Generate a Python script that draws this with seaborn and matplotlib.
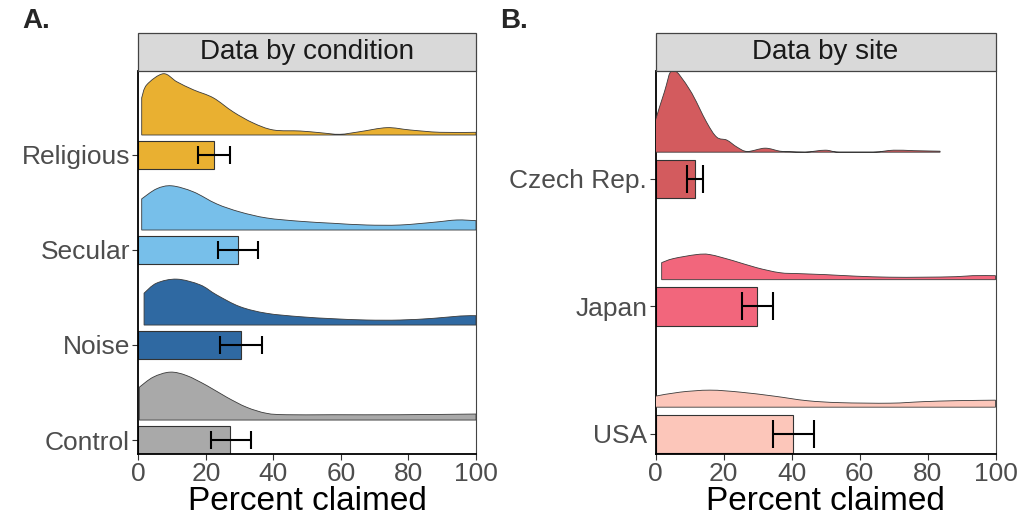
import numpy as np
import pandas as pd
import matplotlib
matplotlib.use("Agg")
import matplotlib.pyplot as plt
from matplotlib.patches import Rectangle, PathPatch
from matplotlib.path import Path
import seaborn as sns

sns.set_theme(style="white")
plt.rcParams['font.family'] = ['Liberation Sans', 'DejaVu Sans']

# ---------------- data: panel A (by condition) ----------------
cond_names = ["Religious", "Secular", "Noise", "Control"]
cond_mean = [22.5, 29.6, 30.4, 27.2]
cond_lo = [17.8, 23.5, 24.3, 21.5]
cond_hi = [27.2, 35.5, 36.5, 33.4]
cond_colors = ["#E9B031", "#77BFEA", "#2F69A2", "#A9A9A9"]

# density ridges (x = percent claimed, d = relative density)
rel_x = [1.0, 2.5, 7.4, 11.4, 16.3, 22.2, 28.1, 34.0, 40.0, 47.9, 53.8, 59.7, 65.6, 73.6, 80.5, 89.3, 100]
rel_d = [37, 50, 61, 53, 45, 37, 23, 12, 5, 4, 2.3, 0.7, 3.3, 7.3, 5, 2.7, 2.7]
sec_x = [1.0, 5.4, 9.9, 16.3, 23.2, 30.1, 38.0, 47.9, 57.7, 67.6, 77.5, 87.4, 94.3, 100]
sec_d = [31, 41, 44, 38, 26, 18, 12, 8.7, 6.7, 5, 5, 7.7, 10, 9.3]
noi_x = [1.7, 5.4, 11.4, 18.3, 23.2, 30.1, 38.0, 47.9, 57.7, 67.6, 77.5, 87.4, 95.3, 100]
noi_d = [31.7, 41.7, 45.7, 40, 30, 18.3, 11.7, 8.3, 6.3, 5, 5, 6.7, 9, 9.3]
con_x = [0.3, 4.4, 9.4, 14.3, 20.3, 26.2, 32.1, 38.0, 43.9, 57.7, 77.5, 100]
con_d = [32.7, 42.7, 47.7, 44.3, 34.3, 22.7, 12.7, 6.7, 5.3, 5.3, 5.3, 6]

# ---------------- data: panel B (by site) ----------------
site_names = ["Czech Rep.", "Japan", "USA"]
site_mean = [11.6, 29.9, 40.5]
site_lo = [9.2, 25.3, 34.5]
site_hi = [14.1, 34.5, 46.7]
site_colors = ["#D35B5E", "#F2667C", "#FCC6BA"]

cze_x = [0.0, 2.6, 5.1, 10.1, 15.0, 18.0, 21.0, 24.0, 27.0, 32.2, 36.6, 39.5, 44.0, 49.9, 54.0, 64.0, 70.0, 76.0, 83.7]
cze_d = [32, 60, 82, 62, 30, 15, 12, 5, 0.7, 4, 1, 0.5, 0, 2, 0, 0, 2, 1.5, 1]
jap_x = [1.8, 5.2, 12.0, 16.0, 22.8, 29.7, 36.5, 42.4, 50.2, 59.0, 68.8, 78.6, 88.4, 93.3, 100]
jap_d = [17, 21, 25, 25, 19, 12, 7, 6, 5, 3.5, 2.5, 2.5, 3, 4, 4]
usa_x = [0, 7.2, 16, 24.9, 34.9, 44.5, 54.3, 69, 78.7, 88.6, 100]
usa_d = [11, 15, 17, 15, 11, 6.5, 4.5, 4, 5.5, 6.5, 7]

x_ticks = [0, 20, 40, 60, 80, 100]

fig = plt.figure(figsize=(10.33, 5.18), dpi=100)
axA = fig.add_axes([0.1339, 0.1236, 0.3269, 0.7394])
axB = fig.add_axes([0.6346, 0.1236, 0.3291, 0.7394])

RIDGE_MAX = 0.645
OFFSET = 0.21


def smooth_ridge_path(xs, tops, base):
    """Closed path: baseline + smooth Bezier curve through the read points."""
    n = len(xs)
    P = np.column_stack([xs, tops])
    verts = [(xs[0], base), (xs[0], tops[0])]
    codes = [Path.MOVETO, Path.LINETO]
    for i in range(n - 1):
        p_prev = P[i - 1] if i > 0 else P[i]
        p_next2 = P[i + 2] if i + 2 < n else P[i + 1]
        c1 = P[i] + (P[i + 1] - p_prev) / 6.0
        c2 = P[i + 1] - (p_next2 - P[i]) / 6.0
        c1[1] = min(c1[1], base)
        c2[1] = min(c2[1], base)
        verts += [tuple(c1), tuple(c2), tuple(P[i + 1])]
        codes += [Path.CURVE4] * 3
    verts += [(xs[-1], base), (xs[0], base)]
    codes += [Path.LINETO, Path.CLOSEPOLY]
    return Path(verts, codes)


def draw_panel(ax, names, means, lo, hi, colors, ridges, ylim, strip_title, capsize):
    df = pd.DataFrame({"group": names, "mean": means})
    pal = dict(zip(names, colors))
    sns.barplot(data=df, x="mean", y="group", hue="group", order=names,
                palette=pal, width=0.3, edgecolor="#333333", linewidth=0.8,
                saturation=1, legend=False, errorbar=None, ax=ax)
    pos = np.arange(len(names))
    means_a = np.array(means)
    ax.errorbar(means_a, pos, xerr=[means_a - np.array(lo), np.array(hi) - means_a],
                fmt="none", ecolor="black", elinewidth=1.5, capsize=capsize,
                capthick=1.5, zorder=5)
    dmax = max(max(d) for _, d in ridges)
    for i, ((xs, ds), col) in enumerate(zip(ridges, colors)):
        xs = np.array(xs, float)
        ds = np.array(ds, float) / dmax * RIDGE_MAX
        base = i - OFFSET
        path = smooth_ridge_path(xs, base - ds, base)
        ax.add_patch(PathPatch(path, facecolor=col, edgecolor="#3a3a3a",
                               linewidth=0.6, zorder=3))
    ax.set_xlim(0, 100)
    ax.set_ylim(*ylim)
    ax.set_xticks(x_ticks)
    ax.set_xticklabels([str(t) for t in x_ticks])
    ax.set_xlabel("Percent claimed", fontsize=24, color="black", labelpad=0)
    ax.set_ylabel("")
    ax.tick_params(axis="both", which="both", length=4, width=0.8, color="#333333",
                   labelcolor="#4D4D4D", labelsize=19, pad=2,
                   left=True, bottom=True)
    for side in ["left", "bottom"]:
        ax.spines[side].set_visible(True)
        ax.spines[side].set_color("black")
        ax.spines[side].set_linewidth(1.3)
    ax.spines["right"].set_visible(True)
    ax.spines["right"].set_color("#444444")
    ax.spines["right"].set_linewidth(0.8)
    ax.spines["top"].set_visible(False)
    ax.grid(False)
    # facet strip
    strip_h = 0.0984
    ax.add_patch(Rectangle((0, 1.0), 1, strip_h, transform=ax.transAxes,
                           facecolor="#D9D9D9", edgecolor="#444444", linewidth=0.9,
                           clip_on=False, zorder=6))
    ax.text(0.5, 1 + strip_h / 2, strip_title, transform=ax.transAxes,
            ha="center", va="center", fontsize=20, color="#1A1A1A", zorder=7)


draw_panel(axA, cond_names, cond_mean, cond_lo, cond_hi, cond_colors,
           [(rel_x, rel_d), (sec_x, sec_d), (noi_x, noi_d), (con_x, con_d)],
           (3.147, -0.884), "Data by condition", 6.8)
draw_panel(axB, site_names, site_mean, site_lo, site_hi, site_colors,
           [(cze_x, cze_d), (jap_x, jap_d), (usa_x, usa_d)],
           (2.157, -0.847), "Data by site", 10)

fig.text(0.022, 0.985, "A.", fontsize=20, fontweight="bold", va="top", ha="left")
fig.text(0.484, 0.985, "B.", fontsize=20, fontweight="bold", va="top", ha="left")

fig.savefig("out.png", dpi=100)
